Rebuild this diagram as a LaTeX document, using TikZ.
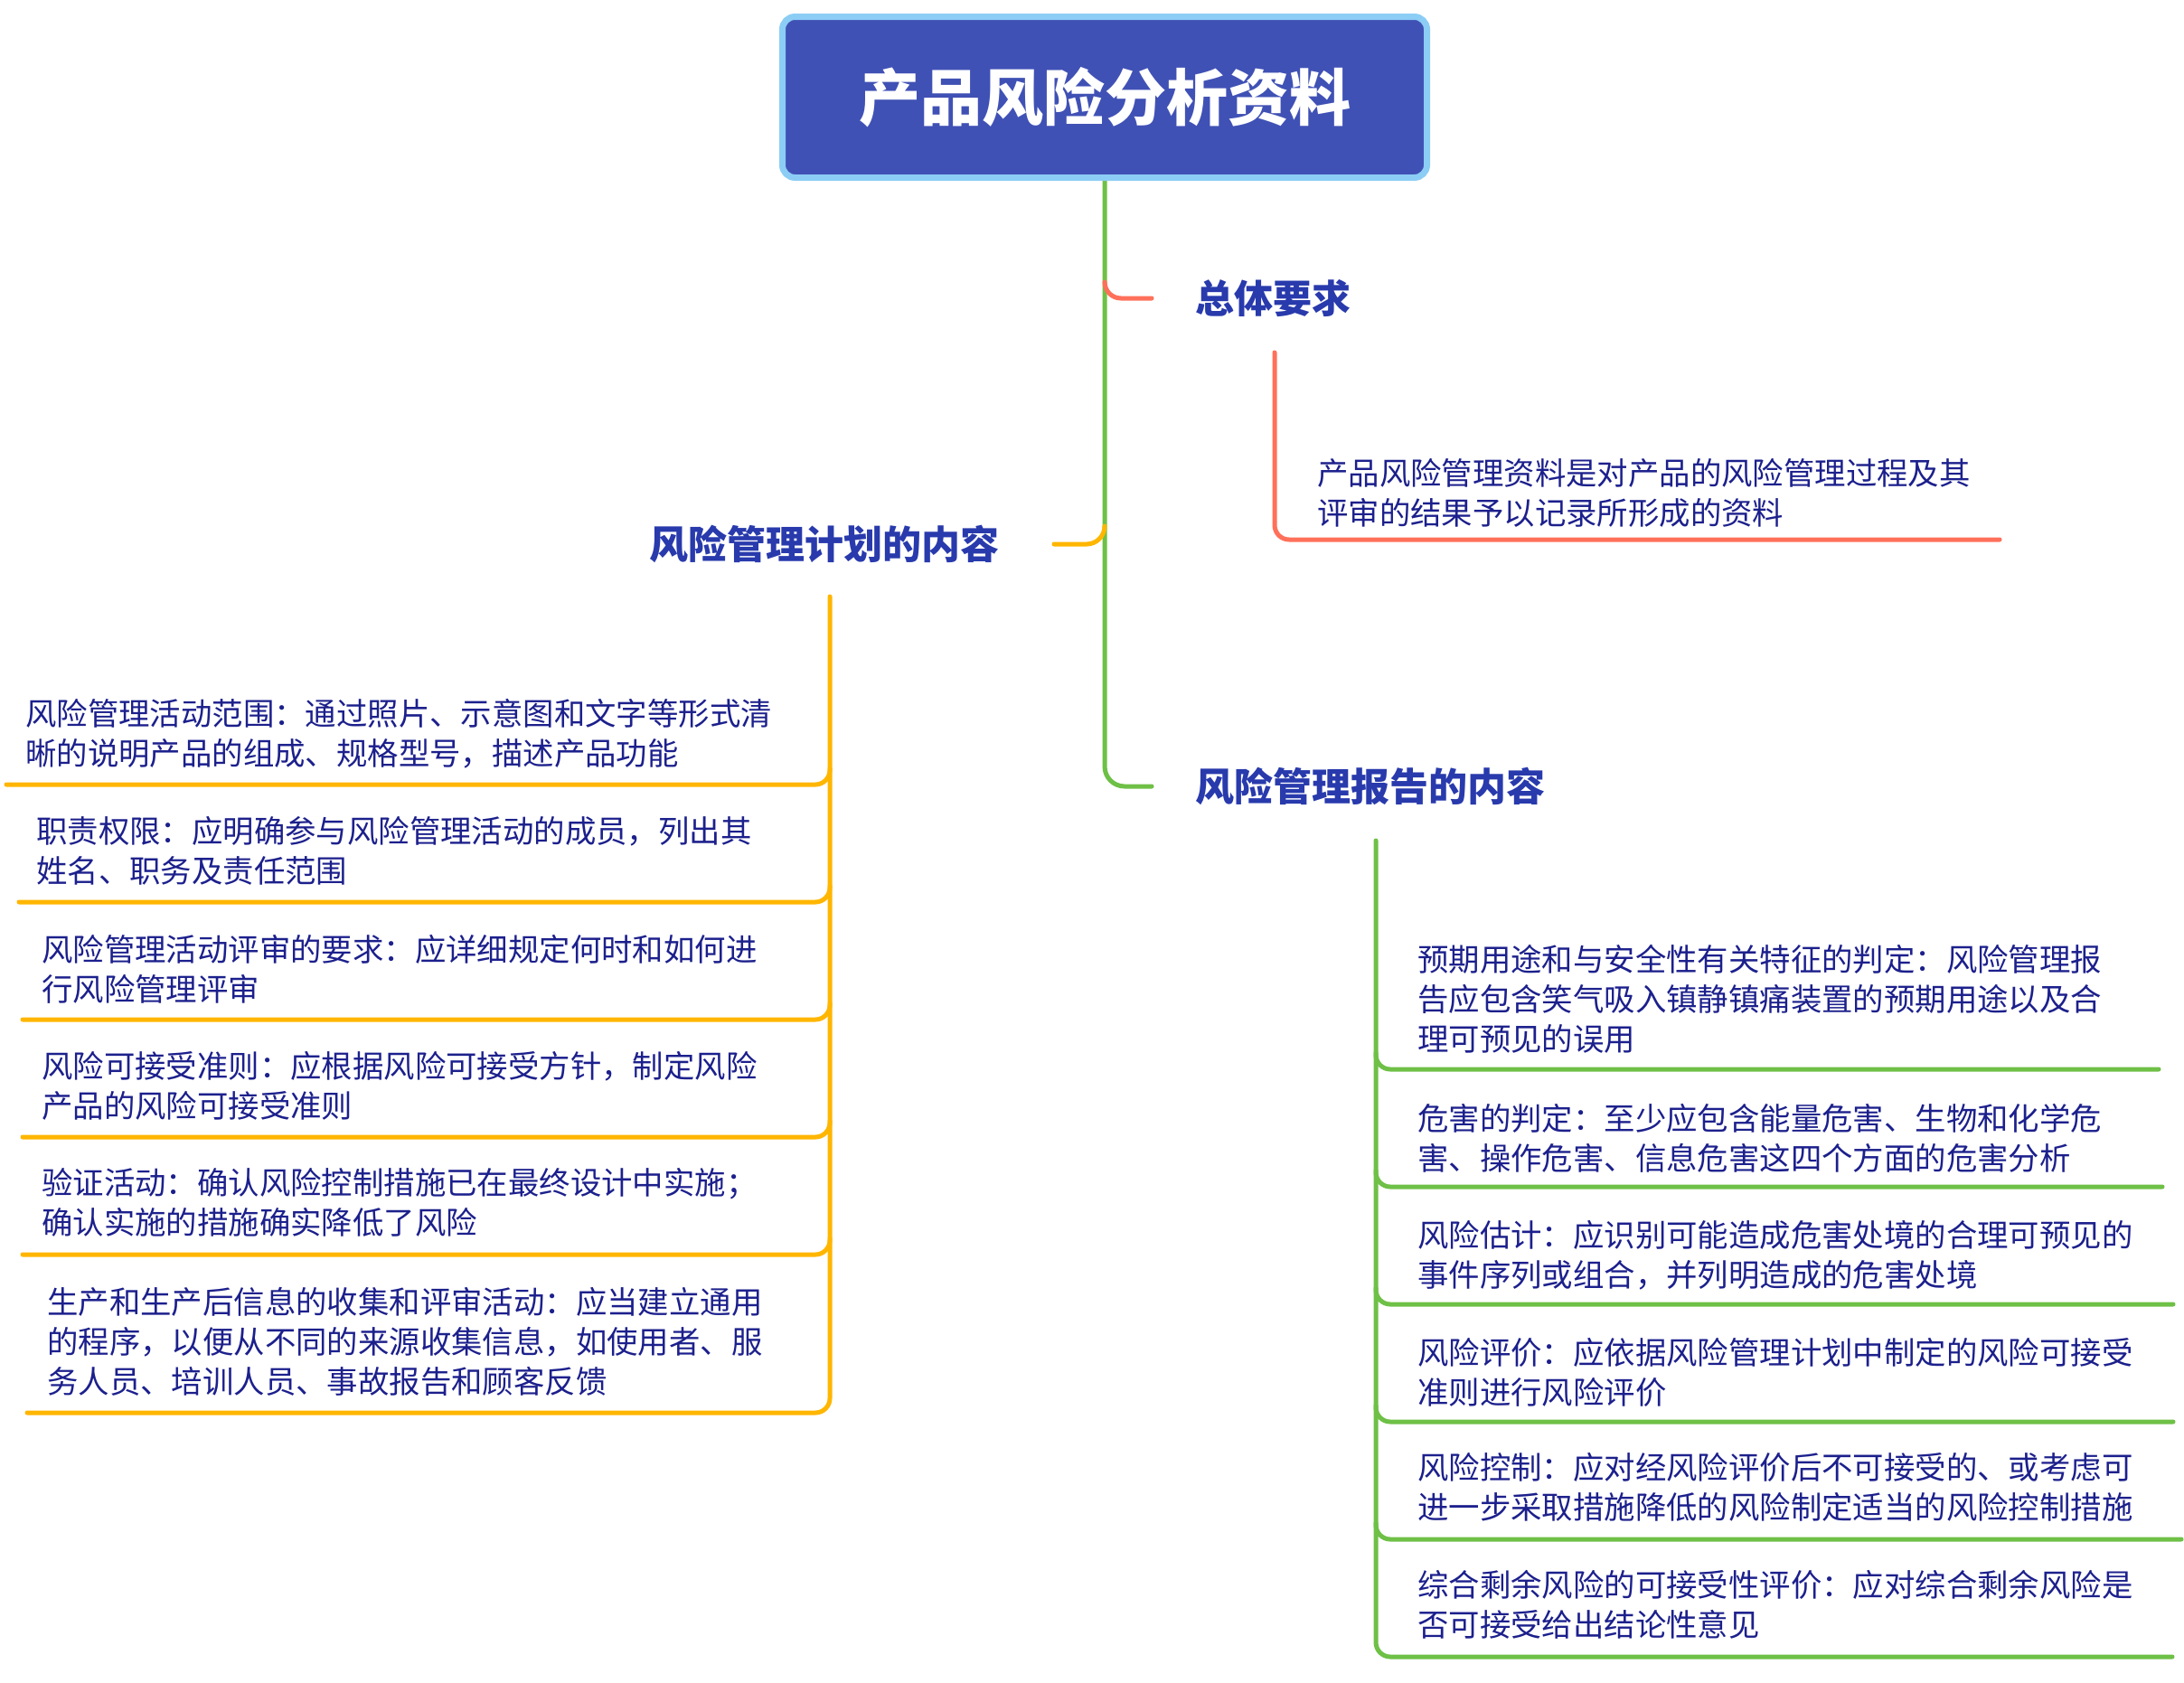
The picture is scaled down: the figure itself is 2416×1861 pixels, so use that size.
\documentclass[tikz,border=0pt]{standalone}
\usepackage{fontspec}
\newfontfamily\cjk{Noto Sans CJK SC}
\definecolor{titlefill}{RGB}{64,81,181}
\definecolor{titleborder}{RGB}{140,205,245}
\definecolor{topictext}{RGB}{40,58,172}
\definecolor{leaftext}{RGB}{28,32,140}
\definecolor{trunkgreen}{RGB}{110,192,70}
\definecolor{branchred}{RGB}{255,112,90}
\definecolor{branchorange}{RGB}{255,182,0}
\begin{document}
\begin{tikzpicture}[x=1pt,y=-1pt,
  topic/.style={font=\cjk\bfseries\fontsize{43}{52}\selectfont, text=topictext, inner sep=0pt, anchor=west},
  leaf/.style={font=\cjk\fontsize{34.4}{44}\selectfont, text=leaftext, inner sep=0pt, anchor=west, align=left},
  conn/.style={line width=5pt, line cap=round, rounded corners=16pt},
  greenline/.style={conn, draw=trunkgreen},
  redline/.style={conn, draw=branchred},
  orangeline/.style={conn, draw=branchorange},
]
\useasboundingbox (0,0) rectangle (2416,1861);

% ---- trunk (drawn first, behind the title) ----
\coordinate (repin) at (1274,870);
\coordinate (genin) at (1274,330);
\coordinate (planin) at (1166,602);
\coordinate (trunktop) at (1222,190);
\draw[greenline, rounded corners=22pt] (trunktop) |- (repin);

% ---- title ----
\node[draw=titleborder, line width=7pt, fill=titlefill, rounded corners=14pt,
      minimum width=713pt, minimum height=178pt, inner sep=0pt,
      font=\cjk\bfseries\fontsize{68}{80}\selectfont, text=white]
  (title) at (1222,107.5) {产品风险分析资料};

% ---- main topics ----
\node[topic] (gen) at (1322,330) {总体要求};
\node[topic] (plan) at (718,602) {风险管理计划的内容};
\node[topic] (rep) at (1322,870) {风险管理报告的内容};

\coordinate (redtap) at (1222,312);
\coordinate (orangetap) at (1222,582);
\draw[redline, rounded corners=18pt] (redtap) |- (genin);
\draw[orangeline, rounded corners=20pt] (orangetap) |- (planin);

% ---- 总体要求 child ----
\node[leaf] (gen1) at (1457,545) {产品风险管理资料是对产品的风险管理过程及其\\评审的结果予以记录所形成的资料};
\coordinate (gentop) at (1410,390);
\coordinate (genend) at (2212,597);
\draw[redline] (gentop) |- (genend);

% ---- 风险管理计划的内容 children ----
\node[leaf] (plan1) at (28,811.5) {风险管理活动范围：通过照片、示意图和文字等形式清\\晰的说明产品的组成、规格型号，描述产品功能};
\node[leaf] (plan2) at (40,941.5) {职责权限：应明确参与风险管理活动的成员，列出其\\姓名、职务及责任范围};
\node[leaf] (plan3) at (46,1072) {风险管理活动评审的要求：应详细规定何时和如何进\\行风险管理评审};
\node[leaf] (plan4) at (46,1201) {风险可接受准则：应根据风险可接受方针，制定风险\\产品的风险可接受准则};
\node[leaf] (plan5) at (46,1330) {验证活动：确认风险控制措施已在最终设计中实施；\\确认实施的措施确实降低了风险};
\node[leaf] (plan6) at (52,1484) {生产和生产后信息的收集和评审活动：应当建立通用\\的程序，以便从不同的来源收集信息，如使用者、服\\务人员、培训人员、事故报告和顾客反馈};

\coordinate (plantop) at (918,660);
\coordinate (pe1) at (7,868);
\coordinate (pe2) at (21,998);
\coordinate (pe3) at (25,1128);
\coordinate (pe4) at (25,1258);
\coordinate (pe5) at (25,1388);
\coordinate (pe6) at (30,1563);
\draw[orangeline] (plantop) |- (pe6);
\foreach \e in {pe1,pe2,pe3,pe4,pe5}{
  \draw[orangeline] ([yshift=18pt]plantop |- \e) |- (\e);
}

% ---- 风险管理报告的内容 children ----
\node[leaf] (rep1) at (1568,1105) {预期用途和与安全性有关特征的判定：风险管理报\\告应包含笑气吸入镇静镇痛装置的预期用途以及合\\理可预见的误用};
\node[leaf] (rep2) at (1568,1259) {危害的判定：至少应包含能量危害、生物和化学危\\害、操作危害、信息危害这四个方面的危害分析};
\node[leaf] (rep3) at (1568,1389) {风险估计：应识别可能造成危害处境的合理可预见的\\事件序列或组合，并列明造成的危害处境};
\node[leaf] (rep4) at (1568,1518) {风险评价：应依据风险管理计划中制定的风险可接受\\准则进行风险评价};
\node[leaf] (rep5) at (1568,1645) {风险控制：应对经风险评价后不可接受的、或考虑可\\进一步采取措施降低的风险制定适当的风险控制措施};
\node[leaf] (rep6) at (1568,1775) {综合剩余风险的可接受性评价：应对综合剩余风险是\\否可接受给出结论性意见};

\coordinate (reptop) at (1522,930);
\coordinate (re1) at (2388,1183);
\coordinate (re2) at (2392,1313);
\coordinate (re3) at (2404,1443);
\coordinate (re4) at (2404,1573);
\coordinate (re5) at (2413,1703);
\coordinate (re6) at (2403,1833);
\draw[greenline] (reptop) |- (re6);
\foreach \e in {re1,re2,re3,re4,re5}{
  \draw[greenline] ([yshift=18pt]reptop |- \e) |- (\e);
}
\end{tikzpicture}
\end{document}
